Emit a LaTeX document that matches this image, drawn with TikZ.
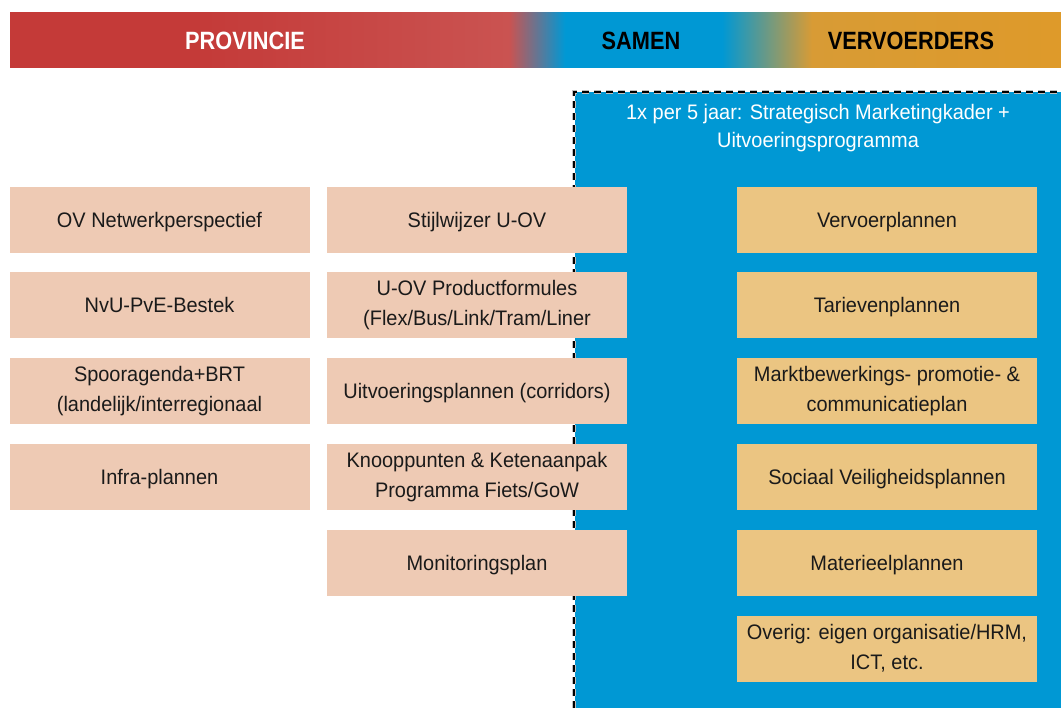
\documentclass[tikz,border=0pt]{standalone}
\usepackage{fontspec}
\setmainfont{Liberation Sans}[FakeStretch=0.95]
\newfontfamily\headfont{Liberation Sans}[FakeStretch=0.87]
\definecolor{hred}{HTML}{C43A38}
\definecolor{hredlight}{HTML}{CA5351}
\definecolor{ovblue}{HTML}{0098D4}
\definecolor{horange}{HTML}{D89B35}
\definecolor{horange2}{HTML}{DE9A2A}
\definecolor{salmon}{HTML}{EECAB4}
\definecolor{goldbox}{HTML}{EBC582}
\definecolor{inkc}{HTML}{1A1A1A}
\pgfdeclarehorizontalshading{headbar}{41.25pt}{%
  color(0pt)=(hred); color(137.25pt)=(hred); color(374.25pt)=(hredlight);
  color(416.25pt)=(ovblue); color(534pt)=(ovblue); color(601.5pt)=(horange);
  color(788.25pt)=(horange2)}
\begin{document}
\begin{tikzpicture}[x=0.75pt,y=-0.75pt,
  box/.style={minimum width=225pt, minimum height=49.5pt, inner sep=0pt,
    align=center, font=\fontsize{15.75}{22.5}\selectfont, text=inkc},
  provbox/.style={box, fill=salmon},
  vervbox/.style={box, fill=goldbox},
  oneline/.style={text depth=0pt},
  headtxt/.style={font=\headfont\bfseries\fontsize{18.75}{22}\selectfont, inner sep=0pt, text depth=0pt},
  titletxt/.style={font=\fontsize{15.75}{21}\selectfont, text=white, align=center, inner sep=0pt},
  dashborder/.style={dash pattern=on 5pt off 4pt}]
\useasboundingbox (0,0) rectangle (1061,708);
% header bar
\node[inner sep=0pt, outer sep=0pt, anchor=north west] (bar) at (10,12) {\pgfuseshading{headbar}};
\node[headtxt, text=white] (hprov) at (245,41) {PROVINCIE};
\node[headtxt, text=black] (hsamen) at (641,41) {SAMEN};
\node[headtxt, text=black] (hverv) at (911,41) {VERVOERDERS};
% shared area
\fill[ovblue] (575,92) rectangle (1061,708);
\draw[dashborder, gray!50, line width=2.8pt] (574,708) -- (574,92) -- (1061,92);
\draw[dashborder, black, line width=2.1pt] (574,708) -- (574,92) -- (1061,92);
\node[titletxt] (title) at (818,128) {1x per 5 jaar: Strategisch Marketingkader +\\Uitvoeringsprogramma};
% column 1
\node[provbox, oneline] (p1) at (159.5,220) {OV Netwerkperspectief};
\node[provbox, oneline] (p2) at (159.5,305) {NvU-PvE-Bestek};
\node[provbox] (p3) at (159.5,391) {Spooragenda+BRT\\(landelijk/interregionaal};
\node[provbox, oneline] (p4) at (159.5,477) {Infra-plannen};
% column 2
\node[provbox, oneline] (s1) at (477,220) {Stijlwijzer U-OV};
\node[provbox] (s2) at (477,305) {U-OV Productformules\\(Flex/Bus/Link/Tram/Liner};
\node[provbox, oneline] (s3) at (477,391) {Uitvoeringsplannen (corridors)};
\node[provbox] (s4) at (477,477) {Knooppunten \& Ketenaanpak\\Programma Fiets/GoW};
\node[provbox, oneline] (s5) at (477,562.5) {Monitoringsplan};
% column 3
\node[vervbox, oneline] (v1) at (887,220) {Vervoerplannen};
\node[vervbox, oneline] (v2) at (887,305) {Tarievenplannen};
\node[vervbox] (v3) at (887,391) {Marktbewerkings- promotie- \&\\communicatieplan};
\node[vervbox, oneline] (v4) at (887,477) {Sociaal Veiligheidsplannen};
\node[vervbox, oneline] (v5) at (887,562.5) {Materieelplannen};
\node[vervbox] (v6) at (887,648.5) {Overig: eigen organisatie/HRM,\\ICT, etc.};
\end{tikzpicture}
\end{document}
